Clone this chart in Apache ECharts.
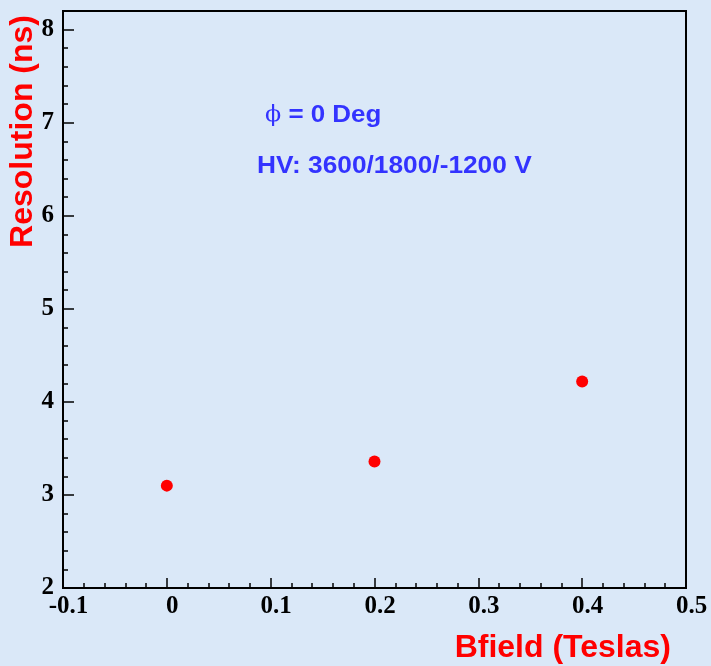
<!DOCTYPE html>
<html>
<head>
<meta charset="utf-8">
<script src="https://cdn.jsdelivr.net/npm/echarts@6/dist/echarts.min.js"></script>
<style>
html,body{margin:0;padding:0;background:#dae8f8;}
#chart{width:711px;height:666px;}
</style>
</head>
<body>
<div id="chart"></div>
<script>
// Data
const bfield = [0, 0.2, 0.4];
const resolution = [3.10, 3.36, 4.22];
const xTitle = 'Bfield (Teslas)';
const yTitle = 'Resolution (ns)';
const phiSymbol = '\u03D5';
const noteLines = [' = 0 Deg', 'HV: 3600/1800/-1200 V'];

const chart = echarts.init(document.getElementById('chart'), null, {renderer: 'canvas'});
const points = bfield.map((x, i) => [x, resolution[i]]);
const labelFont = {fontFamily: '"Liberation Serif", serif', fontWeight: 'bold', fontSize: 25, color: '#000'};

chart.setOption({
  backgroundColor: '#dae8f8',
  animation: false,
  grid: {left: 63, right: 25, top: 11, bottom: 78, show: true, borderColor: '#000', borderWidth: 2, backgroundColor: 'transparent'},
  xAxis: [
    {type: 'value', min: -0.1, max: 0.5, interval: 0.1, position: 'bottom',
     axisLine: {onZero: false, lineStyle: {color: '#000', width: 2}},
     axisTick: {inside: true, length: 10, lineStyle: {color: '#000', width: 1.5}},
     axisLabel: Object.assign({margin: 6, padding: [0, 0, 0, 11], showMinLabel: true, showMaxLabel: true}, labelFont),
     splitLine: {show: false}},
    {type: 'value', min: -0.1, max: 0.5, interval: 0.02, position: 'bottom',
     axisLine: {show: false, onZero: false},
     axisTick: {inside: true, length: 5, lineStyle: {color: '#000', width: 1.5}},
     axisLabel: {show: false}, splitLine: {show: false}}
  ],
  yAxis: [
    {type: 'value', min: 2, max: 8.2, interval: 1, position: 'left',
     axisLine: {show: true, onZero: false, lineStyle: {color: '#000', width: 2}},
     axisTick: {show: true, inside: true, length: 11, lineStyle: {color: '#000', width: 1.5}},
     axisLabel: Object.assign({margin: 9, padding: [9, 0, 0, 0], showMinLabel: true, showMaxLabel: false}, labelFont),
     splitLine: {show: false}},
    {type: 'value', min: 2, max: 8.2, interval: 0.2, position: 'left',
     axisLine: {show: false, onZero: false},
     axisTick: {show: true, inside: true, length: 5, lineStyle: {color: '#000', width: 1.5}},
     axisLabel: {show: false}, splitLine: {show: false}}
  ],
  series: [{
    type: 'scatter', xAxisIndex: 0, yAxisIndex: 0,
    data: points, symbol: 'circle', symbolSize: 12,
    itemStyle: {color: '#ff0000', opacity: 1}
  }],
  graphic: [
    {type: 'text', x: 23, y: 15, rotation: Math.PI / 2,
     style: {text: yTitle, fill: '#ff0000', font: 'bold 32px "Liberation Sans", Arial, sans-serif', textAlign: 'right', textVerticalAlign: 'middle'}},
    {type: 'text', x: 671, y: 648,
     style: {text: xTitle, fill: '#ff0000', font: 'bold 32px "Liberation Sans", Arial, sans-serif', textAlign: 'right', textVerticalAlign: 'middle'}},
    {type: 'text', x: 265, y: 115, scaleX: 1.08,
     style: {text: '{p|' + phiSymbol + '}{t|' + noteLines[0] + '}', textAlign: 'left', textVerticalAlign: 'middle',
       rich: {
         p: {fill: '#3333ff', fontFamily: '"DejaVu Serif", serif', fontWeight: 'normal', fontSize: 22},
         t: {fill: '#3333ff', fontFamily: '"Liberation Sans", Arial, sans-serif', fontWeight: 'bold', fontSize: 24}
       }}},
    {type: 'text', x: 257, y: 166, scaleX: 1.095,
     style: {text: noteLines[1], fill: '#3333ff', font: 'bold 24px "Liberation Sans", Arial, sans-serif', textAlign: 'left', textVerticalAlign: 'middle'}}
  ]
});
</script>
</body>
</html>
